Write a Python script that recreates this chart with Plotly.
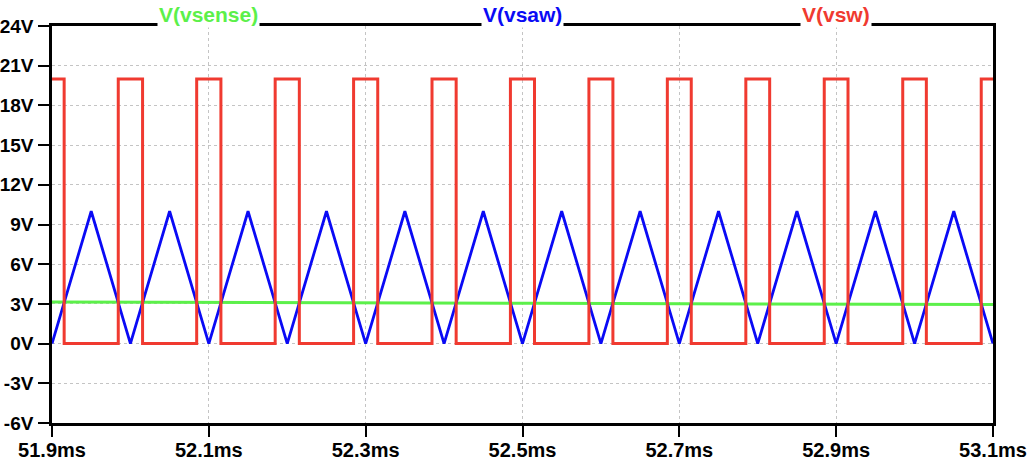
import plotly.graph_objects as go

# ---- data (time in ms, voltage in V) ----
saw_t = [51.9, 51.95, 52.0, 52.05, 52.1, 52.15, 52.2, 52.25, 52.3, 52.35, 52.4, 52.45,
         52.5, 52.55, 52.6, 52.65, 52.7, 52.75, 52.8, 52.85, 52.9, 52.95, 53.0, 53.05, 53.1]
saw_v = [0, 10, 0, 10, 0, 10, 0, 10, 0, 10, 0, 10,
         0, 10, 0, 10, 0, 10, 0, 10, 0, 10, 0, 10, 0]

sense_t = [51.9, 52.2, 52.5, 52.52, 52.8, 53.1]
sense_v = [3.15, 3.12, 3.08, 3.04, 3.0, 2.95]

sw_high = 20.0
sw_low = 0.0
sw_fall = [51.9155, 52.0155, 52.1154, 52.2154, 52.3154, 52.4154, 52.5153,
           52.6153, 52.7152, 52.8152, 52.9151, 53.0150]
sw_rise = [51.9845, 52.0845, 52.1846, 52.2846, 52.3846, 52.4846, 52.5847,
           52.6847, 52.7848, 52.8848, 52.9849, 53.0850]
sw_start, sw_end = 51.9, 53.1

x_ticks = [51.9, 52.1, 52.3, 52.5, 52.7, 52.9, 53.1]
x_labels = ["51.9ms", "52.1ms", "52.3ms", "52.5ms", "52.7ms", "52.9ms", "53.1ms"]
y_ticks = [-6, -3, 0, 3, 6, 9, 12, 15, 18, 21, 24]
y_labels = ["-6V", "-3V", "0V", "3V", "6V", "9V", "12V", "15V", "18V", "21V", "24V"]

names = ["V(vsense)", "V(vsaw)", "V(vsw)"]
name_x = [52.1, 52.5, 52.9]

# build the square wave step series from the edge lists
sw_t = [sw_start]
sw_v = [sw_high]
for f, r in zip(sw_fall, sw_rise):
    sw_t += [f, f, r, r]
    sw_v += [sw_high, sw_low, sw_low, sw_high]
sw_t.append(sw_end)
sw_v.append(sw_high)

GREEN = "#5cf04a"
BLUE = "#0a0af5"
RED = "#f03a30"
FONT = "Liberation Sans"

fig = go.Figure()
fig.add_trace(go.Scatter(x=sense_t, y=sense_v, mode="lines",
                         line=dict(color=GREEN, width=3), name=names[0]))
fig.add_trace(go.Scatter(x=saw_t, y=saw_v, mode="lines",
                         line=dict(color=BLUE, width=2.8), name=names[1]))
fig.add_trace(go.Scatter(x=sw_t, y=sw_v, mode="lines",
                         line=dict(color=RED, width=3), name=names[2]))

for nm, xv, col in zip(names, name_x, [GREEN, BLUE, RED]):
    fig.add_annotation(x=xv, xref="x", y=1, yref="paper", yanchor="bottom",
                       yshift=-2, text=nm, showarrow=False, bgcolor="white",
                       borderpad=1,
                       font=dict(family=FONT, size=21, color=col, weight="bold"))

axis_common = dict(showline=True, linecolor="black", linewidth=2.5, mirror=True,
                   ticks="outside", tickwidth=2, tickcolor="black",
                   showgrid=True, gridcolor="#c4c4c4", gridwidth=1, griddash="dot",
                   zeroline=False, automargin=False)

fig.update_xaxes(range=[51.9, 53.1], tickvals=x_ticks, ticktext=x_labels,
                 ticklen=11, ticklabelstandoff=-4,
                 tickfont=dict(family=FONT, size=20, color="black", weight="bold"),
                 **axis_common)
fig.update_yaxes(range=[-6, 24], tickvals=y_ticks, ticktext=y_labels,
                 ticklen=11, ticklabelstandoff=1,
                 tickfont=dict(family=FONT, size=19, color="black", weight="bold"),
                 **axis_common)

fig.update_layout(width=1028, height=460, showlegend=False,
                  paper_bgcolor="white", plot_bgcolor="white",
                  margin=dict(l=52, r=35, t=26, b=37))

fig.write_html("out.html")
